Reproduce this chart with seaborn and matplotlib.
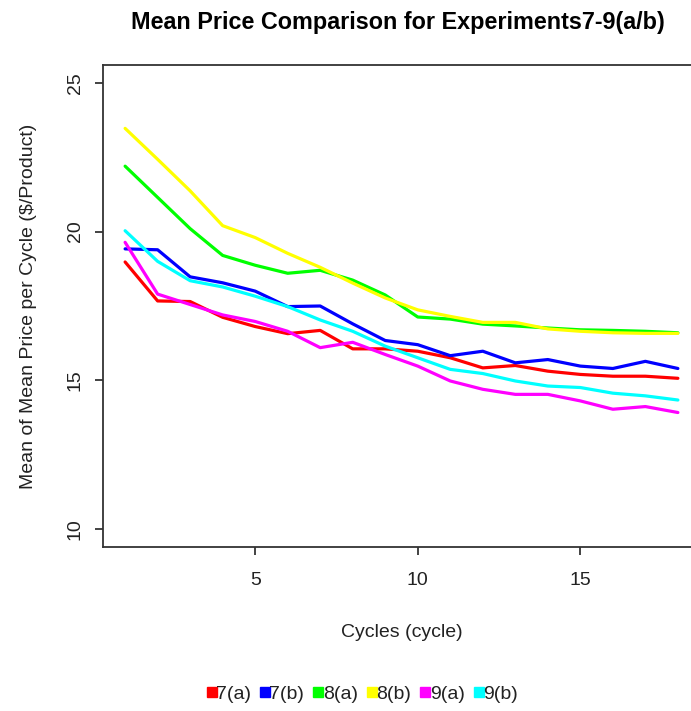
import matplotlib
matplotlib.use("Agg")
import matplotlib.pyplot as plt
from matplotlib.lines import Line2D
import numpy as np
import pandas as pd
import seaborn as sns

cycles = list(range(1, 19))

price_7a = [18.98, 17.67, 17.65, 17.12, 16.81, 16.57, 16.68, 16.06, 16.06,
            15.98, 15.76, 15.42, 15.50, 15.31, 15.20, 15.14, 15.14, 15.07]
price_7b = [19.42, 19.39, 18.48, 18.28, 18.00, 17.48, 17.50, 16.90, 16.34,
            16.20, 15.83, 15.98, 15.59, 15.70, 15.48, 15.40, 15.64, 15.40]
price_8a = [22.20, 21.15, 20.10, 19.20, 18.87, 18.60, 18.70, 18.37, 17.87,
            17.13, 17.06, 16.89, 16.83, 16.76, 16.70, 16.68, 16.65, 16.60]
price_8b = [23.47, 22.43, 21.37, 20.20, 19.80, 19.27, 18.80, 18.27, 17.77,
            17.37, 17.15, 16.95, 16.95, 16.73, 16.65, 16.60, 16.58, 16.58]
price_9a = [19.64, 17.90, 17.55, 17.20, 16.98, 16.65, 16.10, 16.28, 15.87,
            15.48, 14.98, 14.70, 14.53, 14.53, 14.31, 14.03, 14.12, 13.92]
price_9b = [20.03, 19.00, 18.35, 18.14, 17.83, 17.48, 17.03, 16.65, 16.15,
            15.76, 15.37, 15.23, 14.98, 14.81, 14.76, 14.57, 14.48, 14.34]

series_names = ["7(a)", "7(b)", "8(a)", "8(b)", "9(a)", "9(b)"]
series_values = [price_7a, price_7b, price_8a, price_8b, price_9a, price_9b]
series_colors = ["#FF0000", "#0000FF", "#00FF00", "#FFFF00", "#FF00FF", "#00FFFF"]

x_ticks = [5, 10, 15]
y_ticks = [10, 15, 20, 25]

df = pd.DataFrame({
    "cycle": np.tile(cycles, len(series_names)),
    "price": np.concatenate(series_values),
    "experiment": np.repeat(series_names, len(cycles)),
})

sns.set_style("white")
plt.rcParams["font.family"] = ["Liberation Sans", "DejaVu Sans"]

fig = plt.figure(figsize=(6.91, 7.11), dpi=100)
ax = fig.add_axes([103 / 691, 1 - 547 / 711, (700 - 103) / 691, (547 - 65) / 711])

sns.lineplot(data=df, x="cycle", y="price", hue="experiment",
             palette=dict(zip(series_names, series_colors)),
             hue_order=series_names, linewidth=2.3, legend=False, ax=ax)

ax.set_xlim(1 - 0.04 * 17, 18 + 0.04 * 17)
ax.set_ylim(10 - 0.04 * 15, 25 + 0.04 * 15)
ax.set_xticks(x_ticks)
ax.set_yticks(y_ticks)
ax.tick_params(axis="both", bottom=True, left=True, direction="out",
               length=6, width=1.2, colors="#222222", labelsize=14,
               labelcolor="#222222")
ax.tick_params(axis="x", pad=12)
ax.tick_params(axis="y", pad=8)
for lbl in ax.get_yticklabels():
    lbl.set_rotation(90)
    lbl.set_va("center")
for sp in ax.spines.values():
    sp.set_color("#333333")
    sp.set_linewidth(1.3)

ax.set_xlabel("Cycles (cycle)", fontsize=14, labelpad=25, color="#222222")
ax.set_ylabel("Mean of Mean Price per Cycle ($/Product)", fontsize=14,
              labelpad=21, color="#222222")

fig.text(398 / 691, 1 - 22 / 711,
         "Mean Price Comparison for Experiments7-9(a/b)",
         ha="center", va="center", fontsize=16.8, fontweight="bold",
         color="black")

handles = [Line2D([0], [0], marker="s", linestyle="none", markersize=6.5,
                  markerfacecolor=c, markeredgecolor=c) for c in series_colors]
fig.legend(handles, series_names, loc="center", ncol=6, frameon=False,
           bbox_to_anchor=(362 / 691, 1 - 694 / 711), fontsize=14,
           handletextpad=-0.05, columnspacing=0.45, handlelength=0.55,
           labelcolor="#222222")

fig.savefig("out.png", dpi=100)
